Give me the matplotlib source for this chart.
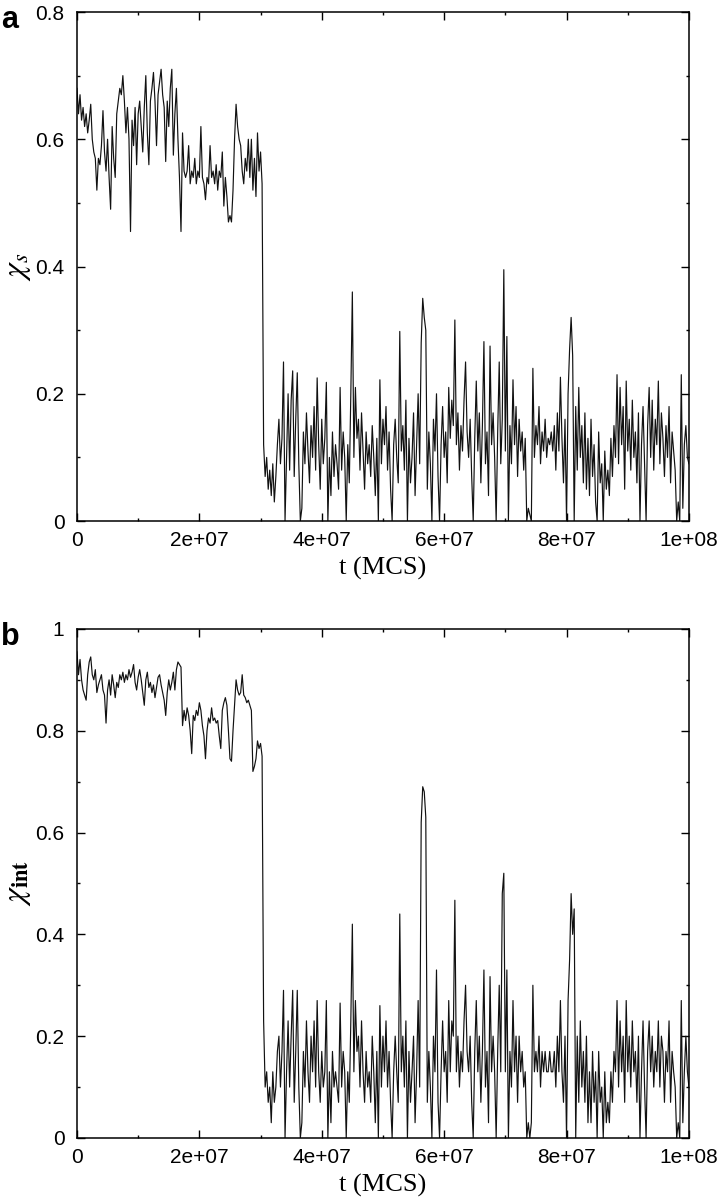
import numpy as np
import matplotlib.pyplot as plt
from matplotlib.ticker import MultipleLocator, FixedLocator, FixedFormatter

plt.rcParams['mathtext.fontset'] = 'stix'

# sampling of the MC run (every 2.5e5 MCS, 0 .. 1e8)
t = np.arange(401) * 2.5e5

# panel a: chi_s, before and after the collapse at ~3.05e7 MCS
chi_s_before = [
    0.68, 0.64, 0.67, 0.63, 0.65, 0.62, 0.64, 0.61, 0.63, 0.655,
    0.60, 0.58, 0.57, 0.52, 0.57, 0.56, 0.59, 0.645, 0.58, 0.55,
    0.60, 0.54, 0.49, 0.62, 0.57, 0.54, 0.64, 0.66, 0.68, 0.67,
    0.70, 0.66, 0.61, 0.65, 0.60, 0.455, 0.63, 0.59, 0.65, 0.56,
    0.64, 0.66, 0.62, 0.58, 0.65, 0.70, 0.61, 0.56, 0.66, 0.68,
    0.705, 0.66, 0.59, 0.67, 0.69, 0.71, 0.67, 0.65, 0.565, 0.66,
    0.62, 0.68, 0.71, 0.575, 0.64, 0.68, 0.60, 0.54, 0.455, 0.61,
    0.55, 0.54, 0.55, 0.59, 0.53, 0.55, 0.54, 0.57, 0.53, 0.55,
    0.54, 0.62, 0.54, 0.53, 0.505, 0.54, 0.53, 0.59, 0.54, 0.55,
    0.53, 0.56, 0.52, 0.55, 0.54, 0.58, 0.495, 0.54, 0.51, 0.47,
    0.48, 0.47, 0.52, 0.60, 0.655, 0.62, 0.60, 0.59, 0.55, 0.53,
    0.57, 0.55, 0.60, 0.54, 0.60, 0.52, 0.57, 0.51, 0.61, 0.55,
    0.58, 0.53,
]
chi_s_after = [
    0.12, 0.07, 0.10, 0.05, 0.08, 0.04, 0.09, 0.03, 0.07, 0.12,
    0.16, 0.09, 0.13, 0.25, 0.00, 0.10, 0.20, 0.08, 0.19, 0.236,
    0.07, 0.16, 0.233, 0.09, 0.00, 0.02, 0.14, 0.09, 0.17, 0.11,
    0.06, 0.15, 0.10, 0.18, 0.08, 0.225, 0.12, 0.05, 0.16, 0.09,
    0.13, 0.218, 0.00, 0.10, 0.04, 0.14, 0.07, 0.12, 0.09, 0.05,
    0.21, 0.08, 0.14, 0.10, 0.00, 0.12, 0.06, 0.20, 0.36, 0.10,
    0.21, 0.13, 0.16, 0.08, 0.17, 0.11, 0.05, 0.14, 0.09, 0.12,
    0.07, 0.15, 0.10, 0.04, 0.13, 0.00, 0.222, 0.09, 0.16, 0.12,
    0.18, 0.08, 0.14, 0.05, 0.00, 0.12, 0.16, 0.10, 0.06, 0.298,
    0.11, 0.15, 0.08, 0.19, 0.00, 0.13, 0.06, 0.10, 0.17, 0.04,
    0.12, 0.20, 0.09, 0.28, 0.35, 0.32, 0.30, 0.05, 0.14, 0.09,
    0.00, 0.16, 0.11, 0.20, 0.07, 0.00, 0.12, 0.18, 0.10, 0.14,
    0.06, 0.21, 0.13, 0.19, 0.15, 0.316, 0.12, 0.17, 0.08, 0.15,
    0.11, 0.19, 0.25, 0.14, 0.10, 0.16, 0.07, 0.00, 0.13, 0.22,
    0.11, 0.17, 0.06, 0.15, 0.282, 0.09, 0.14, 0.04, 0.275, 0.12,
    0.17, 0.10, 0.00, 0.14, 0.25, 0.09, 0.16, 0.395, 0.11, 0.29,
    0.00, 0.15, 0.09, 0.222, 0.12, 0.18, 0.07, 0.16, 0.11, 0.14,
    0.08, 0.13, 0.00, 0.02, 0.01, 0.00, 0.24, 0.10, 0.15, 0.12,
    0.18, 0.09, 0.14, 0.11, 0.16, 0.10, 0.13, 0.12, 0.14, 0.11,
    0.15, 0.08, 0.17, 0.11, 0.226, 0.13, 0.06, 0.16, 0.00, 0.20,
    0.27, 0.32, 0.26, 0.00, 0.18, 0.08, 0.21, 0.10, 0.15, 0.06,
    0.17, 0.05, 0.13, 0.04, 0.16, 0.07, 0.12, 0.03, 0.00, 0.14,
    0.06, 0.09, 0.00, 0.11, 0.05, 0.08, 0.04, 0.13, 0.07, 0.15,
    0.10, 0.23, 0.09, 0.21, 0.12, 0.18, 0.05, 0.22, 0.11, 0.16,
    0.08, 0.19, 0.10, 0.14, 0.06, 0.17, 0.00, 0.12, 0.18, 0.09,
    0.00, 0.15, 0.21, 0.10, 0.19, 0.08, 0.16, 0.12, 0.22, 0.09,
    0.17, 0.13, 0.07, 0.15, 0.10, 0.18, 0.06, 0.14, 0.11, 0.08,
    0.00, 0.03, 0.00, 0.23, 0.02, 0.12, 0.15, 0.10, 0.09,
]

# panel b: chi_int
chi_int_before = [
    0.955, 0.91, 0.94, 0.90, 0.88, 0.87, 0.86, 0.91, 0.935, 0.945,
    0.91, 0.90, 0.92, 0.875, 0.89, 0.90, 0.91, 0.88, 0.87, 0.815,
    0.88, 0.90, 0.87, 0.91, 0.89, 0.865, 0.895, 0.885, 0.91, 0.90,
    0.915, 0.895, 0.91, 0.90, 0.92, 0.905, 0.915, 0.93, 0.895, 0.88,
    0.905, 0.92, 0.90, 0.875, 0.85, 0.90, 0.915, 0.885, 0.895, 0.875,
    0.89, 0.865, 0.885, 0.905, 0.91, 0.89, 0.875, 0.86, 0.83, 0.875,
    0.90, 0.88, 0.895, 0.915, 0.88, 0.92, 0.935, 0.93, 0.925, 0.81,
    0.84, 0.82, 0.845, 0.83, 0.80, 0.755, 0.83, 0.82, 0.84, 0.83,
    0.855, 0.84, 0.81, 0.79, 0.745, 0.80, 0.825, 0.815, 0.845, 0.82,
    0.825, 0.815, 0.82, 0.79, 0.765, 0.84, 0.855, 0.865, 0.85, 0.80,
    0.745, 0.74, 0.80, 0.85, 0.90, 0.88, 0.87, 0.875, 0.91, 0.87,
    0.865, 0.855, 0.86, 0.85, 0.84, 0.72, 0.73, 0.745, 0.78, 0.765,
    0.775, 0.75,
]
chi_int_after = [
    0.23, 0.10, 0.13, 0.07, 0.10, 0.03, 0.13, 0.07, 0.10, 0.17,
    0.20, 0.10, 0.17, 0.29, 0.00, 0.13, 0.23, 0.10, 0.20, 0.29,
    0.07, 0.17, 0.29, 0.10, 0.00, 0.03, 0.17, 0.10, 0.23, 0.13,
    0.07, 0.20, 0.13, 0.23, 0.10, 0.27, 0.13, 0.07, 0.17, 0.10,
    0.13, 0.27, 0.00, 0.13, 0.03, 0.17, 0.10, 0.13, 0.10, 0.07,
    0.265, 0.10, 0.17, 0.13, 0.00, 0.13, 0.07, 0.23, 0.42, 0.13,
    0.27, 0.17, 0.20, 0.10, 0.23, 0.13, 0.07, 0.17, 0.10, 0.13,
    0.07, 0.20, 0.13, 0.03, 0.17, 0.00, 0.26, 0.10, 0.20, 0.13,
    0.23, 0.10, 0.17, 0.07, 0.00, 0.13, 0.20, 0.13, 0.07, 0.44,
    0.13, 0.20, 0.10, 0.23, 0.00, 0.17, 0.07, 0.13, 0.20, 0.03,
    0.13, 0.27, 0.10, 0.62, 0.69, 0.68, 0.63, 0.07, 0.17, 0.10,
    0.00, 0.20, 0.13, 0.33, 0.07, 0.00, 0.13, 0.23, 0.13, 0.17,
    0.07, 0.27, 0.13, 0.23, 0.20, 0.467, 0.13, 0.20, 0.10, 0.17,
    0.13, 0.23, 0.30, 0.17, 0.13, 0.20, 0.07, 0.00, 0.17, 0.27,
    0.13, 0.20, 0.07, 0.17, 0.33, 0.10, 0.17, 0.03, 0.317, 0.13,
    0.20, 0.13, 0.00, 0.17, 0.30, 0.13, 0.48, 0.52, 0.13, 0.33,
    0.00, 0.17, 0.10, 0.27, 0.13, 0.20, 0.07, 0.20, 0.13, 0.17,
    0.10, 0.13, 0.00, 0.03, 0.00, 0.03, 0.30, 0.13, 0.17, 0.13,
    0.20, 0.10, 0.17, 0.13, 0.17, 0.13, 0.13, 0.17, 0.13, 0.13,
    0.17, 0.10, 0.20, 0.13, 0.27, 0.13, 0.07, 0.20, 0.00, 0.27,
    0.35, 0.48, 0.40, 0.45, 0.00, 0.20, 0.07, 0.23, 0.10, 0.17,
    0.07, 0.20, 0.03, 0.13, 0.03, 0.17, 0.07, 0.13, 0.00, 0.17,
    0.07, 0.10, 0.00, 0.13, 0.03, 0.07, 0.03, 0.13, 0.07, 0.17,
    0.13, 0.27, 0.10, 0.23, 0.13, 0.20, 0.07, 0.27, 0.13, 0.20,
    0.10, 0.23, 0.13, 0.17, 0.07, 0.20, 0.00, 0.13, 0.23, 0.10,
    0.00, 0.17, 0.23, 0.13, 0.20, 0.10, 0.17, 0.13, 0.23, 0.10,
    0.20, 0.17, 0.07, 0.17, 0.13, 0.23, 0.07, 0.17, 0.13, 0.10,
    0.00, 0.03, 0.00, 0.27, 0.03, 0.13, 0.20, 0.13, 0.10,
]

x_ticks = [0, 2e7, 4e7, 6e7, 8e7, 1e8]
x_labels = ["0", "2e+07", "4e+07", "6e+07", "8e+07", "1e+08"]
ya_ticks = [0, 0.2, 0.4, 0.6, 0.8]
ya_labels = ["0", "0.2", "0.4", "0.6", "0.8"]
yb_ticks = [0, 0.2, 0.4, 0.6, 0.8, 1.0]
yb_labels = ["0", "0.2", "0.4", "0.6", "0.8", "1"]

chi_s = np.array(chi_s_before + chi_s_after)
chi_int = np.array(chi_int_before + chi_int_after)

fig = plt.figure(figsize=(7.22, 12), dpi=100)
ax_a = fig.add_axes([0.1066, 0.5658, 0.8476, 0.4242])
ax_b = fig.add_axes([0.1066, 0.0517, 0.8476, 0.4242])

sans = "Liberation Sans"
serif = "Liberation Serif"


def style(ax, y, ymax, yticks, ylabels, ylab, letter, letter_y):
    ax.plot(t, y, color="#111111", lw=0.85)
    ax.set_xlim(0, 1e8)
    ax.set_ylim(0, ymax)
    ax.xaxis.set_major_locator(FixedLocator(x_ticks))
    ax.xaxis.set_major_formatter(FixedFormatter(x_labels))
    ax.xaxis.set_minor_locator(MultipleLocator(1e7))
    ax.yaxis.set_major_locator(FixedLocator(yticks))
    ax.yaxis.set_major_formatter(FixedFormatter(ylabels))
    ax.yaxis.set_minor_locator(MultipleLocator(0.1))
    ax.tick_params(which="both", direction="in", top=True, right=True, width=1)
    ax.tick_params(which="major", length=5.5)
    ax.tick_params(which="minor", length=2.5)
    ax.tick_params(axis="y", pad=9)
    ax.tick_params(axis="x", pad=7)
    for lab in ax.get_xticklabels() + ax.get_yticklabels():
        lab.set_fontfamily(sans)
        lab.set_fontsize(15)
    for sp in ax.spines.values():
        sp.set_linewidth(1.1)
    ax.text(0.5, -47 / 509, "t (MCS)", transform=ax.transAxes,
            ha="center", va="center", fontsize=19, family=serif)
    ax.text(-0.097, 0.5, ylab, transform=ax.transAxes, rotation=90,
            ha="center", va="center", fontsize=23)
    ax.text(-0.1235, letter_y, letter, transform=ax.transAxes, ha="left",
            va="baseline", fontsize=22, fontweight="bold", family=sans)


style(ax_a, chi_s, 0.8, ya_ticks, ya_labels, r"$\chi_s$", "a", 1 - 16 / 509)
style(ax_b, chi_int, 1.0, yb_ticks, yb_labels, r"$\chi_{\mathbf{int}}$", "b",
      1 - 16 / 509)

fig.savefig("out.png", dpi=100)
